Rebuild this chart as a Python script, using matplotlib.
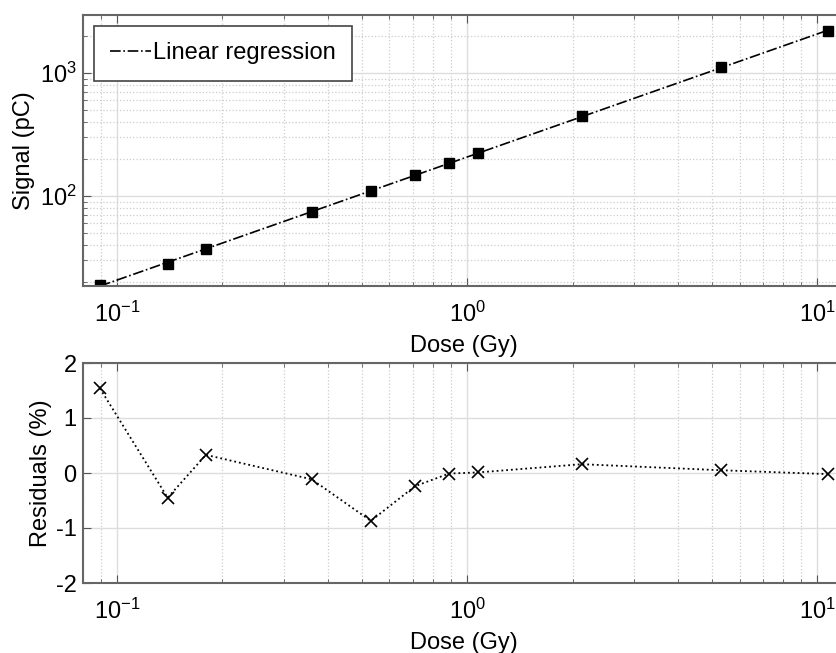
import numpy as np
import matplotlib
matplotlib.use("Agg")
import matplotlib.pyplot as plt

dose = [0.0894, 0.1396, 0.1795, 0.36, 0.531, 0.71, 0.888, 1.073, 2.126, 5.32, 10.73]
signal = [18.9, 28.0, 37.1, 74.2, 109.8, 148, 184.5, 222, 446, 1112, 2208]
residuals = [1.54, -0.45, 0.33, -0.115, -0.87, -0.24, -0.01, 0.01, 0.16, 0.05, -0.02]

plt.rcParams['font.family'] = 'Liberation Sans'
plt.rcParams['mathtext.fontset'] = 'custom'
plt.rcParams['mathtext.rm'] = 'Liberation Sans'
plt.rcParams['mathtext.it'] = 'Liberation Sans'
plt.rcParams['axes.unicode_minus'] = False
fs = 17

fig = plt.figure(figsize=(8.36, 6.53), dpi=100)
ax1 = fig.add_axes([83/836, 1-286/653, (845-83)/836, 271/653])
ax2 = fig.add_axes([83/836, 1-583/653, (845-83)/836, 220/653])

# linear regression in log-log space
p = np.polyfit(np.log10(dose), np.log10(signal), 1)
fit = 10**np.polyval(p, np.log10(dose))
ax1.loglog(dose, fit, color='k', ls='-.', lw=1.2, label='Linear regression')
ax1.loglog(dose, signal, 's', color='k', ms=7, ls='none')
ax1.set_ylim(18.5, 2966)

ax2.semilogx(dose, residuals, color='k', ls=':', lw=1.3, marker='x', ms=9, mew=1.2)
ax2.set_ylim(-2, 2)
ax2.set_yticks([-2, -1, 0, 1, 2])

for ax in (ax1, ax2):
    ax.set_xlim(0.08, 12)
    ax.set_xlabel('Dose (Gy)', fontsize=fs, labelpad=6)
    ax.tick_params(which='both', direction='in', top=True, right=True,
                   labelsize=fs, color='#555555')
    ax.tick_params(axis='x', which='both', pad=11)
    ax.tick_params(axis='y', which='both', pad=4.5)
    ax.tick_params(which='major', length=6)
    ax.tick_params(which='minor', length=3)
    for s in ax.spines.values():
        s.set_color('#666666')
        s.set_linewidth(1.5)
    ax.grid(True, which='major', color='#dddddd', lw=1, ls='-')
    ax.set_axisbelow(True)

ax1.grid(True, which='minor', color='#cccccc', lw=0.9, ls=':')
ax2.grid(True, which='minor', axis='x', color='#cccccc', lw=0.9, ls=':')
ax1.set_ylabel('Signal (pC)', fontsize=fs)
ax2.set_ylabel('Residuals (%)', fontsize=fs)
ax1.yaxis.set_label_coords(-0.063, 0.5)
ax2.yaxis.set_label_coords(-0.041, 0.5)
ax2.yaxis.set_minor_locator(matplotlib.ticker.NullLocator())

leg = ax1.legend(loc='upper left', fontsize=fs, handlelength=1.75, handletextpad=0.05,
                 borderpad=0.7, borderaxespad=0.45, fancybox=False, framealpha=1)
leg.get_frame().set_edgecolor('#444444')
leg.get_frame().set_linewidth(1.2)

fig.savefig('out.png', dpi=100)
